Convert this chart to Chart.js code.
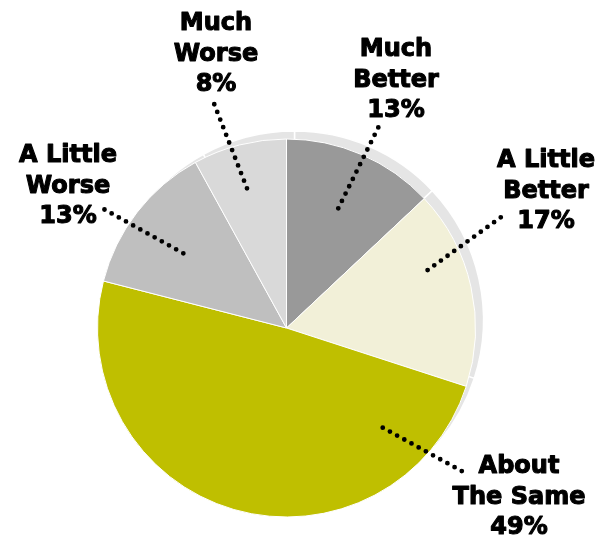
<!DOCTYPE html>
<html>
<head>
<meta charset="utf-8">
<script src="https://cdn.jsdelivr.net/npm/chart.js@4/dist/chart.umd.min.js"></script>
<style>
  html, body { margin: 0; padding: 0; background: #ffffff; }
  #wrap { width: 615px; height: 539px; position: relative; }
</style>
</head>
<body>
<div id="wrap"><canvas id="pie" width="615" height="539"></canvas></div>
<script>
// Survey answers, clockwise from 12 o'clock
const categories = ['Much Better', 'A Little Better', 'About The Same', 'A Little Worse', 'Much Worse'];
const shares = [13, 17, 49, 13, 8];
const labelLines = [
  ['Much', 'Better'],
  ['A Little', 'Better'],
  ['About', 'The Same'],
  ['A Little', 'Worse'],
  ['Much', 'Worse']
];
const sliceColors = ['#999999', '#f2f0d8', '#bfbf00', '#bfbfbf', '#d9d9d9'];

// Callout placement: text centre x, first baseline y, leader start (angle from top in degrees,
// fraction of radius) and leader end point.
const callouts = [
  { x: 396, y: 56,  inAngle: 23.4,  inFrac: 0.69,  out: [381, 122] },
  { x: 546, y: 167, inAngle: 67.7,  inFrac: 0.807, out: [504, 215] },
  { x: 519, y: 473, inAngle: 136,   inFrac: 0.733, out: [467, 474] },
  { x: 68,  y: 162, inAngle: 305.9, inFrac: 0.674, out: [100, 207] },
  { x: 216, y: 30,  inAngle: 344.2, inFrac: 0.768, out: [213, 101] }
];

const FONT = 'bold 24px "DejaVu Sans"';
const LINE_GAP = 30.5;

// Light grey copy of the pie, pushed up and to the right, behind the slices
const backdrop = {
  id: 'backdrop',
  beforeDatasetsDraw(chart) {
    const ctx = chart.ctx;
    const arcs = chart.getDatasetMeta(0).data;
    ctx.save();
    ctx.translate(8, -8);
    arcs.forEach(a => {
      ctx.beginPath();
      ctx.moveTo(a.x, a.y);
      ctx.arc(a.x, a.y, a.outerRadius, a.startAngle, a.endAngle);
      ctx.closePath();
      ctx.fillStyle = '#e5e5e5';
      ctx.fill();
      ctx.lineWidth = 1.5;
      ctx.strokeStyle = '#ffffff';
      ctx.stroke();
    });
    ctx.restore();
  }
};

// Dotted leaders and bold category labels
const callout = {
  id: 'callout',
  afterDatasetsDraw(chart) {
    const ctx = chart.ctx;
    const arcs = chart.getDatasetMeta(0).data;
    const values = chart.data.datasets[0].data;
    ctx.save();
    arcs.forEach((a, i) => {
      const c = callouts[i];
      const th = c.inAngle * Math.PI / 180;
      const sx = a.x + Math.sin(th) * a.outerRadius * c.inFrac;
      const sy = a.y - Math.cos(th) * a.outerRadius * c.inFrac;
      ctx.beginPath();
      ctx.setLineDash([0, 8.2]);
      ctx.lineCap = 'round';
      ctx.lineWidth = 4.8;
      ctx.strokeStyle = '#000000';
      ctx.moveTo(sx, sy);
      ctx.lineTo(c.out[0], c.out[1]);
      ctx.stroke();

      ctx.setLineDash([]);
      ctx.lineCap = 'butt';
      ctx.lineJoin = 'round';
      ctx.font = FONT;
      ctx.fillStyle = '#000000';
      ctx.strokeStyle = '#000000';
      ctx.lineWidth = 1.1;
      ctx.textAlign = 'center';
      ctx.textBaseline = 'alphabetic';
      const lines = labelLines[i].concat([values[i] + '%']);
      lines.forEach((t, k) => {
        ctx.fillText(t, c.x, c.y + k * LINE_GAP);
        ctx.strokeText(t, c.x, c.y + k * LINE_GAP);
      });
    });
    ctx.restore();
  }
};

new Chart(document.getElementById('pie'), {
  type: 'pie',
  data: {
    labels: categories,
    datasets: [{
      data: shares,
      backgroundColor: sliceColors,
      borderColor: '#ffffff',
      borderWidth: 1
    }]
  },
  options: {
    responsive: false,
    animation: false,
    layout: { padding: { left: 97, right: 139, top: 138.5, bottom: 21.5 } },
    plugins: {
      legend: { display: false },
      tooltip: { enabled: false }
    }
  },
  plugins: [backdrop, callout]
});
</script>
</body>
</html>
